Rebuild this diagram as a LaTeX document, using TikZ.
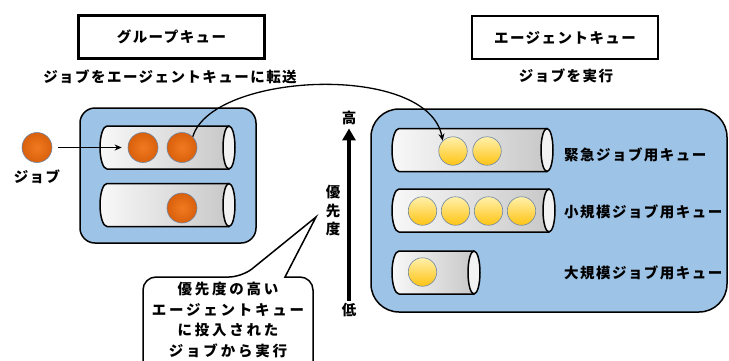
\documentclass[tikz,border=0pt]{standalone}
\usepackage{fontspec}
\newfontfamily\jpfont{Noto Sans CJK JP}[LetterSpace=10]
\newfontfamily\jpwide{Noto Sans CJK JP}[LetterSpace=19]
\usetikzlibrary{arrows.meta, positioning, calc}

\definecolor{poolblue}{RGB}{157,195,230}
\definecolor{tubelight}{RGB}{248,248,248}
\definecolor{tubedark}{RGB}{200,200,200}
\definecolor{capgray}{RGB}{242,242,242}
\definecolor{edgeblue}{RGB}{110,135,165}
\definecolor{orangein}{RGB}{240,122,32}
\definecolor{orangeout}{RGB}{218,96,12}
\definecolor{yellowtop}{RGB}{255,240,170}
\definecolor{yellowbot}{RGB}{255,196,20}

% x1, x2 (cap centre), y centre
\newcommand{\qtube}[3]{%
  \fill[left color=tubelight, right color=tubedark] (#2,#3-21.5) -- (#1+7,#3-21.5)
    arc[start angle=270, end angle=90, x radius=7, y radius=21.5] -- (#2,#3+21.5) -- cycle;
  \draw[line width=1.5pt] (#2,#3-21.5) -- (#1+7,#3-21.5)
    arc[start angle=270, end angle=90, x radius=7, y radius=21.5] -- (#2,#3+21.5);
  \draw[line width=1.5pt, fill=capgray] (#2,#3) ellipse[x radius=6, y radius=21.5];
}

\begin{document}
\begin{tikzpicture}[
  x=1pt, y=-1pt,
  jp/.style={font=\jpfont\bfseries\fontsize{14.5}{17}\selectfont},
  title/.style={jp, draw, line width=2.6pt, fill=white, minimum width=186pt, minimum height=43pt},
  pool/.style={draw, line width=1.5pt, fill=poolblue},
  ojob/.style={circle, draw=edgeblue, line width=0.6pt, inner sep=0pt, minimum size=30pt, inner color=orangein, outer color=orangeout},
  yjob/.style={circle, draw=edgeblue, line width=0.6pt, inner sep=0pt, minimum size=28.5pt, top color=yellowtop, bottom color=yellowbot},
  qlabel/.style={jp, anchor=west, inner sep=0pt},
  >={Stealth[length=7pt, width=6pt]}
]
  \useasboundingbox (0,0) rectangle (729,360);

  % titles
  \node[title] (grp) at (171.5,37) {グループキュー};
  \node[jp] (grpnote) at (170,77) {ジョブをエージェントキューに転送};
  \node[title] (agt) at (565,37.5) {エージェントキュー};
  \node[jp] (agtnote) at (566,76) {ジョブを実行};

  % group queue
  \draw[pool, rounded corners=15pt] (80,108) rectangle (256,243);
  \qtube{100}{229}{147.5}
  \qtube{100}{229}{205}
  \node[ojob] (g1) at (143,147.5) {};
  \node[ojob] (g2) at (182,147.5) {};
  \node[ojob] (g3) at (182,208) {};

  % incoming job
  \node[ojob] (job) at (37,147.5) {};
  \node[jp, below=3pt of job] (joblbl) {ジョブ};
  \draw[->, line width=1.3pt, shorten <=6pt, shorten >=6pt] (job) -- (g1);

  % agent queues
  \draw[pool, rounded corners=28pt] (371,109) rectangle (727,312);
  \qtube{392}{547}{150}
  \qtube{392}{549}{210.5}
  \qtube{392}{474}{272.5}
  \node[yjob] (ya1) at (453,151) {};
  \node[yjob] (ya2) at (487,151) {};
  \foreach \i/\x in {1/422.5, 2/455.5, 3/488.5, 4/521.5}
    \node[yjob] (yb\i) at (\x,211) {};
  \node[yjob] (yc1) at (422.5,272) {};
  \node[qlabel] (qa) at (564,155) {緊急ジョブ用キュー};
  \node[qlabel] (qb) at (564,212) {小規模ジョブ用キュー};
  \node[qlabel] (qc) at (564,273) {大規模ジョブ用キュー};

  % transfer
  \draw[->, line width=1.3pt] (g2.north east) .. controls (212,72) and (428,62) .. (ya1.north west);

  % priority axis
  \node[jp] (hi) at (349,118) {高};
  \node[jp] (lo) at (349,310) {低};
  \node[jp, align=center, font=\jpfont\bfseries\fontsize{14.5}{18.5}\selectfont] (prio) at (333,211) {優\\先\\度};
  \draw[line width=4pt, -{Triangle[length=12pt, width=13pt]}, shorten <=-1pt] (lo) -- (hi);

  % callout
  \draw[line width=1.5pt, fill=white, rounded corners=13pt] (143,372) -- (143,277) -- (242,277)
    [sharp corners] -- (316,217) -- (285,277) [rounded corners=13pt] -- (313,277) -- (313,372);
  \node[jp, align=center, font=\jpwide\bfseries\fontsize{14.5}{20.5}\selectfont] (note) at (228,320)
    {優先度の高い\\エージェントキュー\\に投入された\\ジョブから実行};
\end{tikzpicture}
\end{document}
